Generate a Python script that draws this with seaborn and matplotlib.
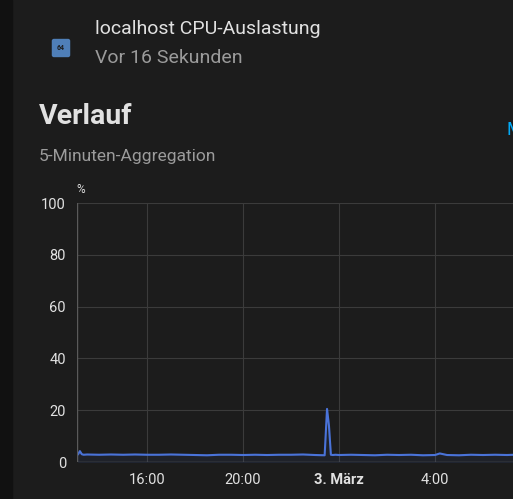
import matplotlib
matplotlib.use("Agg")
import matplotlib.pyplot as plt
import seaborn as sns
import pandas as pd
from matplotlib.patches import FancyBboxPatch, Rectangle

sns.set_theme(style="dark")
plt.rcParams['font.family'] = ['Roboto', 'DejaVu Sans']

# hours since 2 March 00:00
hours = [13.12, 13.2, 13.28, 13.36, 13.5, 14.0, 14.5, 15.0, 15.5, 16.0, 16.5, 17.0, 17.5, 18.0,
         18.5, 19.0, 19.5, 20.0, 20.5, 21.0, 21.5, 22.0, 22.5, 23.0, 23.4, 23.5, 23.58, 23.66,
         23.74, 23.85, 24.0, 24.5, 25.0, 25.5, 26.0, 26.5, 27.0, 27.5, 28.0, 28.2, 28.5, 29.0,
         29.5, 30.0, 30.5, 31.0, 31.3]
cpu = [2.9, 4.2, 3.0, 2.8, 2.9, 2.8, 2.9, 2.8, 2.9, 2.8, 2.8, 2.9, 2.8, 2.7,
       2.6, 2.8, 2.8, 2.7, 2.8, 2.7, 2.8, 2.8, 2.9, 2.7, 2.6, 20.5, 14.0, 2.8,
       2.7, 2.8, 2.7, 2.8, 2.7, 2.6, 2.8, 2.7, 2.8, 2.6, 2.7, 3.3, 2.7, 2.6,
       2.8, 2.7, 2.8, 2.7, 2.8]
tick_pos = [16, 20, 24, 28]
tick_labels = ["16:00", "20:00", "3. März", "4:00"]
y_ticks = [0, 20, 40, 60, 80, 100]

df = pd.DataFrame({"h": hours, "cpu": cpu})

fig = plt.figure(figsize=(5.13, 4.99), dpi=100)
fig.patch.set_facecolor("#1c1c1c")
fig.add_artist(Rectangle((0, 0), 12/513, 1, transform=fig.transFigure, color="#111111", zorder=0))

ax = fig.add_axes([77/513, 37/499, 436/513, 259/499])
ax.set_facecolor("#1c1c1c")
sns.lineplot(data=df, x="h", y="cpu", ax=ax, color="#4a73d9", linewidth=1.5)
ax.fill_between(hours, cpu, color="#4a73d9", alpha=0.08)
ax.set_xlim(13.08, 31.25)
ax.set_ylim(0, 100)
ax.set_xticks(tick_pos)
ax.set_xticklabels(tick_labels)
for lab in ax.get_xticklabels():
    if "März" in lab.get_text():
        lab.set_fontweight("bold")
ax.set_yticks(y_ticks)
ax.tick_params(colors="#e1e1e1", labelsize=10.5, length=0, pad=8)
ax.grid(True, color="#3b3b3b", linewidth=0.8)
ax.axvline(13.08, color="#5a5a5a", linewidth=1)
ax.axhline(0, color="#5a5a5a", linewidth=1)
for s in ax.spines.values():
    s.set_visible(False)
ax.set_xlabel("")
ax.set_ylabel("")
fig.text(76/513, 1-193/499, "%", color="#e1e1e1", fontsize=8.5)

# header
fig.add_artist(FancyBboxPatch((54/513, 1-55/499), 14/513, 14/499, boxstyle="round,pad=0.003",
                              transform=fig.transFigure, color="#4f7fb8"))
fig.text(61/513, 1-48/499, "64", color="#1c1c1c", fontsize=5, ha="center", va="center", fontweight="bold")
fig.text(95/513, 1-29/499, "localhost CPU-Auslastung", color="#e1e1e1", fontsize=14, va="center")
fig.text(95/513, 1-58/499, "Vor 16 Sekunden", color="#9b9b9b", fontsize=14, va="center")
fig.text(39/513, 1-117/499, "Verlauf", color="#e1e1e1", fontsize=20.5, fontweight="bold", va="center")
fig.text(39/513, 1-156/499, "5-Minuten-Aggregation", color="#9b9b9b", fontsize=12.5, va="center")
fig.text(507/513, 1-130/499, "M", color="#03a9f4", fontsize=13, va="center")

fig.savefig("out.png", dpi=100, facecolor=fig.get_facecolor())
